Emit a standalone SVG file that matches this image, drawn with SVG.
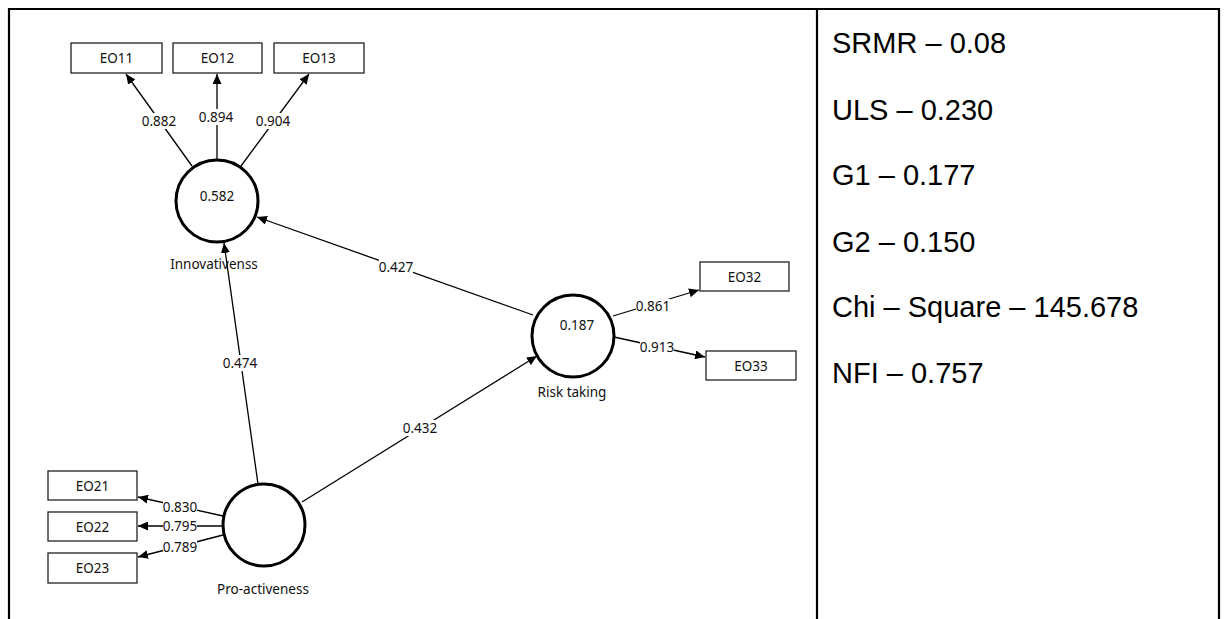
<svg xmlns="http://www.w3.org/2000/svg" width="1224" height="619" viewBox="0 0 1224 619">
<defs>
<marker id="ah" markerUnits="userSpaceOnUse" markerWidth="10" markerHeight="9" refX="10" refY="4.5" orient="auto">
<path d="M0,0 L10,4.5 L0,9 z" fill="#000"/>
</marker>
<style>
.tbl{stroke:#000;stroke-width:2.2;fill:none}
.box rect{fill:#fff;stroke:#222;stroke-width:1.3}
.lv circle{fill:#fff;stroke:#000;stroke-width:3}
.t{font-family:"Noto Sans","Open Sans",sans-serif;font-size:13.5px;fill:#111;text-anchor:middle;dominant-baseline:central}
.edge line{stroke:#000;stroke-width:1.3;marker-end:url(#ah)}
.lbl rect{fill:#fff}
.fit{font-family:"Liberation Sans",Arial,sans-serif;font-size:29px;fill:#000}
</style>
</defs>
<rect width="1224" height="619" fill="#fff"/>
<g id="table">
<line class="tbl" x1="9" y1="8" x2="9" y2="619"/>
<line class="tbl" x1="8" y1="9" x2="1220" y2="9"/>
<line class="tbl" x1="817" y1="9" x2="817" y2="619"/>
<line class="tbl" x1="1219" y1="8" x2="1219" y2="619"/>
</g>
<g id="connectors" class="edge">
<line x1="192" y1="166" x2="126" y2="74"/>
<line x1="217" y1="160" x2="217" y2="74"/>
<line x1="241" y1="166" x2="309" y2="74"/>
<line x1="533" y1="315" x2="257" y2="217"/>
<line x1="258" y1="484" x2="224" y2="243"/>
<line x1="302" y1="502" x2="537" y2="356"/>
<line x1="613" y1="316" x2="699" y2="290"/>
<line x1="614" y1="337" x2="705" y2="357"/>
<line x1="223" y1="516" x2="138" y2="497"/>
<line x1="223" y1="526" x2="138" y2="526"/>
<line x1="223" y1="535" x2="138" y2="557"/>
</g>
<g id="edge-labels" class="lbl">
<rect x="142" y="113" width="34" height="16"/><text class="t" x="159" y="121">0.882</text>
<rect x="199" y="109" width="34" height="16"/><text class="t" x="216" y="117">0.894</text>
<rect x="256" y="113" width="34" height="16"/><text class="t" x="273" y="121">0.904</text>
<rect x="379" y="259" width="34" height="16"/><text class="t" x="396" y="267">0.427</text>
<rect x="223" y="355" width="34" height="16"/><text class="t" x="240" y="363">0.474</text>
<rect x="403" y="420" width="34" height="16"/><text class="t" x="420" y="428">0.432</text>
<rect x="636" y="299" width="34" height="14"/><text class="t" x="653" y="306">0.861</text>
<rect x="640" y="340" width="34" height="14"/><text class="t" x="657" y="347">0.913</text>
<rect x="163" y="500" width="34" height="14"/><text class="t" x="180" y="507">0.830</text>
<rect x="163" y="519" width="34" height="14"/><text class="t" x="180" y="526">0.795</text>
<rect x="163" y="540" width="34" height="14"/><text class="t" x="180" y="547">0.789</text>
</g>
<g id="EO11" class="box"><rect x="71" y="43" width="91" height="30"/><text class="t" x="116.5" y="58">EO11</text></g>
<g id="EO12" class="box"><rect x="173" y="43" width="89" height="30"/><text class="t" x="217.5" y="58">EO12</text></g>
<g id="EO13" class="box"><rect x="274" y="43" width="90" height="30"/><text class="t" x="319" y="58">EO13</text></g>
<g id="EO21" class="box"><rect x="48" y="471" width="89" height="29"/><text class="t" x="92.5" y="485.5">EO21</text></g>
<g id="EO22" class="box"><rect x="48" y="512" width="89" height="29"/><text class="t" x="92.5" y="526.5">EO22</text></g>
<g id="EO23" class="box"><rect x="48" y="553" width="89" height="30"/><text class="t" x="92.5" y="568">EO23</text></g>
<g id="EO32" class="box"><rect x="700" y="262" width="89" height="29"/><text class="t" x="744.5" y="276.5">EO32</text></g>
<g id="EO33" class="box"><rect x="706" y="351" width="90" height="29"/><text class="t" x="751" y="365.5">EO33</text></g>
<g id="innovativeness" class="lv"><circle cx="217" cy="201" r="41"/><text class="t" x="217" y="196">0.582</text><text class="t" x="214" y="264">Innovativenss</text></g>
<g id="pro-activeness" class="lv"><circle cx="264" cy="525" r="41"/><text class="t" x="263" y="589">Pro-activeness</text></g>
<g id="risk-taking" class="lv"><circle cx="573" cy="336" r="41"/><text class="t" x="577" y="325">0.187</text><text class="t" x="572" y="392">Risk taking</text></g>
<g id="fit-indices">
<text class="fit" x="832" y="53">SRMR – 0.08</text>
<text class="fit" x="832" y="120">ULS – 0.230</text>
<text class="fit" x="832" y="185">G1 – 0.177</text>
<text class="fit" x="832" y="252">G2 – 0.150</text>
<text class="fit" x="832" y="317">Chi – Square – 145.678</text>
<text class="fit" x="832" y="383">NFI – 0.757</text>
</g>
</svg>
